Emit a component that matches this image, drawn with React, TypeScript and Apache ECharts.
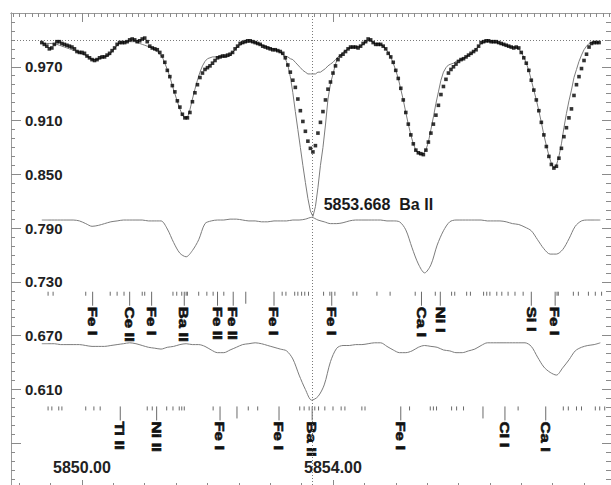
import React, { useEffect, useRef } from 'react';
import * as echarts from 'echarts';

// ---- axis ranges ----
const X_MIN = 5848.869;
const X_MAX = 5858.43;
const Y_MIN = 0.5;
const Y_MAX = 1.03;

// ---- tick / label values ----
const X_LABELS = [5850, 5854];
const Y_LABELS = [0.61, 0.67, 0.73, 0.79, 0.85, 0.91, 0.97];
const Y_MAJOR = [0.55, 0.61, 0.67, 0.73, 0.79, 0.85, 0.91, 0.97];

// ---- reference lines ----
const CONTINUUM = 1.0;
const BA_LINE = 5853.668;
const BA_LINE_DEPTH = 0.803;
const BA_TEXT = '5853.668  Ba II';

// ---- observed spectrum (uniform sampling) ----
const OBS_START = 5849.36;
const OBS_STEP = 0.04;
const OBS_FLUX = [
  0.997, 0.995, 0.993, 0.990, 0.991, 0.995, 0.998, 0.998, 0.996, 0.995,
  0.994, 0.993, 0.992, 0.990, 0.987, 0.986, 0.986, 0.985, 0.982, 0.980,
  0.978, 0.977, 0.978, 0.980, 0.981, 0.981, 0.983, 0.985, 0.988, 0.991,
  0.995, 0.997, 0.997, 0.997, 0.998, 1.000, 1.001, 1.000, 0.998, 0.999,
  1.001, 1.002, 0.998, 0.993, 0.991, 0.990, 0.989, 0.986, 0.982, 0.975,
  0.966, 0.959, 0.949, 0.942, 0.932, 0.925, 0.917, 0.913, 0.913, 0.919,
  0.931, 0.941, 0.950, 0.958, 0.963, 0.967, 0.969, 0.971, 0.974, 0.977,
  0.980, 0.981, 0.982, 0.982, 0.983, 0.984, 0.986, 0.990, 0.993, 0.996,
  0.997, 0.998, 0.999, 0.999, 0.998, 0.997, 0.996, 0.995, 0.993, 0.992,
  0.991, 0.990, 0.989, 0.989, 0.988, 0.987, 0.985, 0.980, 0.972, 0.964,
  0.955, 0.947, 0.934, 0.921, 0.909, 0.898, 0.887, 0.879, 0.875, 0.882,
  0.896, 0.908, 0.920, 0.933, 0.945, 0.953, 0.963, 0.971, 0.978, 0.982,
  0.984, 0.987, 0.990, 0.992, 0.992, 0.992, 0.991, 0.993, 0.996, 0.998,
  1.001, 1.000, 0.997, 0.995, 0.995, 0.995, 0.993, 0.990, 0.985, 0.981,
  0.975, 0.966, 0.957, 0.946, 0.933, 0.919, 0.906, 0.894, 0.884, 0.877,
  0.874, 0.873, 0.872, 0.877, 0.886, 0.896, 0.906, 0.916, 0.927, 0.939,
  0.948, 0.956, 0.963, 0.967, 0.970, 0.973, 0.976, 0.978, 0.979, 0.981,
  0.983, 0.985, 0.987, 0.989, 0.993, 0.997, 0.998, 0.999, 0.999, 0.998,
  0.998, 0.998, 0.997, 0.996, 0.995, 0.994, 0.993, 0.992, 0.991, 0.992,
  0.991, 0.986, 0.980, 0.974, 0.966, 0.955, 0.944, 0.933, 0.921, 0.908,
  0.894, 0.881, 0.870, 0.861, 0.857, 0.859, 0.868, 0.879, 0.892, 0.902,
  0.913, 0.923, 0.938, 0.950, 0.959, 0.968, 0.977, 0.984, 0.992, 0.996,
  0.997, 0.997, 0.997,
];

// ---- synthetic spectrum (same sampling as observed) ----
const SYN_FLUX = [
  0.997, 0.996, 0.996, 0.996, 0.996, 0.995, 0.995, 0.994, 0.993, 0.992,
  0.991, 0.990, 0.989, 0.988, 0.987, 0.986, 0.984, 0.983, 0.982, 0.980,
  0.978, 0.978, 0.978, 0.979, 0.980, 0.981, 0.982, 0.983, 0.987, 0.990,
  0.994, 0.996, 0.997, 0.998, 0.998, 0.998, 0.998, 0.998, 0.997, 0.996,
  0.995, 0.994, 0.993, 0.992, 0.991, 0.989, 0.987, 0.984, 0.981, 0.974,
  0.967, 0.959, 0.949, 0.940, 0.931, 0.923, 0.916, 0.913, 0.913, 0.922,
  0.934, 0.945, 0.955, 0.964, 0.971, 0.976, 0.979, 0.980, 0.981, 0.981,
  0.981, 0.981, 0.981, 0.981, 0.981, 0.982, 0.986, 0.989, 0.992, 0.994,
  0.996, 0.997, 0.997, 0.998, 0.997, 0.997, 0.996, 0.995, 0.994, 0.993,
  0.992, 0.991, 0.990, 0.989, 0.988, 0.986, 0.984, 0.979, 0.972, 0.959,
  0.941, 0.920, 0.900, 0.880, 0.860, 0.841, 0.823, 0.809, 0.803, 0.814,
  0.835, 0.860, 0.880, 0.905, 0.934, 0.951, 0.962, 0.973, 0.981, 0.983,
  0.986, 0.988, 0.990, 0.991, 0.992, 0.992, 0.993, 0.993, 0.995, 0.997,
  0.999, 0.999, 0.997, 0.996, 0.996, 0.995, 0.993, 0.990, 0.986, 0.981,
  0.974, 0.966, 0.957, 0.945, 0.933, 0.919, 0.906, 0.894, 0.884, 0.877,
  0.873, 0.872, 0.873, 0.877, 0.886, 0.900, 0.914, 0.929, 0.942, 0.955,
  0.964, 0.969, 0.972, 0.973, 0.974, 0.976, 0.977, 0.978, 0.979, 0.981,
  0.983, 0.984, 0.987, 0.990, 0.993, 0.996, 0.997, 0.998, 0.998, 0.998,
  0.997, 0.997, 0.996, 0.995, 0.995, 0.994, 0.993, 0.992, 0.992, 0.991,
  0.990, 0.986, 0.981, 0.974, 0.966, 0.955, 0.944, 0.933, 0.921, 0.908,
  0.894, 0.882, 0.871, 0.862, 0.857, 0.860, 0.870, 0.884, 0.902, 0.918,
  0.932, 0.944, 0.958, 0.967, 0.976, 0.983, 0.989, 0.993, 0.996, 0.997,
  0.998, 0.997, 0.997,
];

// ---- synthetic with weak Ba II 5853.668 (partial) ----
const WEAK_START = 5853.16;
const WEAK_FLUX = [
  0.986, 0.984, 0.982, 0.981, 0.979, 0.978, 0.975, 0.972, 0.969, 0.966,
  0.964, 0.962, 0.962, 0.962, 0.962, 0.964, 0.964, 0.966, 0.968, 0.971,
  0.973, 0.975, 0.978, 0.981, 0.983, 0.986, 0.988,
];

// ---- offset component spectra (0.1 A sampling) ----
const COMP_START = 5849.36;
const COMP_STEP = 0.1;
const MID_FLUX = [
  0.799, 0.799, 0.799, 0.799, 0.799, 0.799, 0.798, 0.795, 0.792, 0.793,
  0.795, 0.797, 0.798, 0.799, 0.799, 0.799, 0.799, 0.798, 0.798, 0.798,
  0.789, 0.774, 0.762, 0.758, 0.765, 0.777, 0.795, 0.798, 0.799, 0.799,
  0.800, 0.800, 0.799, 0.798, 0.798, 0.797, 0.797, 0.798, 0.798, 0.798,
  0.799, 0.799, 0.800, 0.802, 0.799, 0.797, 0.795, 0.795, 0.796, 0.798,
  0.799, 0.799, 0.799, 0.799, 0.799, 0.798, 0.798, 0.797, 0.788, 0.768,
  0.750, 0.740, 0.749, 0.771, 0.787, 0.797, 0.799, 0.799, 0.799, 0.799,
  0.799, 0.798, 0.798, 0.798, 0.797, 0.795, 0.794, 0.791, 0.787, 0.777,
  0.767, 0.761, 0.761, 0.766, 0.778, 0.792, 0.798, 0.799, 0.799, 0.799,
];
const LOW_FLUX = [
  0.661, 0.661, 0.661, 0.660, 0.660, 0.660, 0.660, 0.659, 0.658, 0.658,
  0.658, 0.659, 0.660, 0.661, 0.662, 0.661, 0.659, 0.657, 0.656, 0.655,
  0.657, 0.658, 0.660, 0.661, 0.660, 0.660, 0.658, 0.654, 0.651, 0.651,
  0.654, 0.657, 0.660, 0.661, 0.662, 0.661, 0.659, 0.657, 0.655, 0.653,
  0.644, 0.626, 0.610, 0.598, 0.602, 0.615, 0.641, 0.656, 0.659, 0.659,
  0.660, 0.660, 0.661, 0.662, 0.662, 0.658, 0.654, 0.651, 0.651, 0.653,
  0.657, 0.659, 0.658, 0.657, 0.654, 0.653, 0.651, 0.651, 0.653, 0.655,
  0.659, 0.662, 0.662, 0.662, 0.662, 0.662, 0.662, 0.662, 0.658, 0.646,
  0.635, 0.629, 0.626, 0.634, 0.643, 0.653, 0.657, 0.659, 0.660, 0.662,
];

// ---- line identifications ----
const ROW1_LEVEL = 0.719;
const ROW2_LEVEL = 0.591;
const ROW1_WAVES = [5850.17, 5850.76, 5851.11, 5851.63, 5852.16, 5852.41, 5853.06, 5853.98, 5855.41, 5855.71, 5857.16, 5857.54];
const ROW1_NAMES = ['Fe I', 'Ce II', 'Fe I', 'Ba II', 'Fe II', 'Fe II', 'Fe I', 'Fe I', 'Ca I', 'Ni I', 'Si I', 'Fe I'];
const ROW1_MINOR = [
  5849.46, 5849.54, 5850.06, 5850.45, 5850.56, 5850.67, 5850.96, 5851.00, 5851.45, 5851.51,
  5851.59, 5851.66, 5851.68, 5851.86, 5851.99, 5852.09, 5852.26, 5853.19, 5853.25, 5853.39,
  5853.44, 5853.50, 5853.55, 5853.61, 5853.85, 5853.95, 5854.03, 5854.32, 5854.38, 5854.70,
  5854.91, 5855.31, 5855.63, 5855.89, 5855.94, 5856.13, 5856.19, 5856.40, 5856.45, 5856.50,
  5856.61, 5856.69, 5856.79, 5856.90, 5857.03, 5857.57, 5857.59, 5857.83, 5857.91, 5858.07,
  5858.18, 5858.28,
];
const ROW1_MID = [5852.61];
const ROW2_WAVES = [5850.61, 5851.19, 5852.20, 5853.14, 5853.668, 5855.08, 5856.74, 5857.39];
const ROW2_NAMES = ['Ti II', 'Ni II', 'Fe I', 'Fe I', 'Ba II', 'Fe I', 'CI I', 'Ca I'];
const ROW2_MINOR = [
  5849.46, 5849.52, 5849.63, 5849.68, 5850.06, 5850.19, 5850.29, 5851.04, 5851.12, 5851.35,
  5851.45, 5851.55, 5851.59, 5851.63, 5852.09, 5852.65, 5852.80, 5853.47, 5853.54, 5853.62,
  5853.71, 5853.77, 5853.87, 5854.00, 5854.13, 5854.19, 5854.46, 5854.51, 5855.22, 5855.55,
  5855.60, 5855.65, 5855.89, 5855.97, 5856.08, 5856.95, 5857.67, 5857.75, 5857.88, 5857.96,
  5858.18, 5858.25, 5858.33,
];
const ROW2_MID = [5852.47, 5856.39];

const FONT = '"Liberation Sans", Arial, Helvetica, sans-serif';

function steps(a: number, b: number, s: number, dec: number) {
  const out: number[] = [];
  const n = Math.round((b - a) / s);
  for (let i = 0; i <= n; i++) out.push(+(a + i * s).toFixed(dec));
  return out;
}

function buildOption() {
  const wave = (start: number, step: number, i: number) => +(start + i * step).toFixed(3);
  const obs = OBS_FLUX.map((f, i) => [wave(OBS_START, OBS_STEP, i), f]);
  const syn = SYN_FLUX.map((f, i) => [wave(OBS_START, OBS_STEP, i), f]);
  const weak = WEAK_FLUX.map((f, i) => [wave(WEAK_START, OBS_STEP, i), f]);
  const mid = MID_FLUX.map((f, i) => [wave(COMP_START, COMP_STEP, i), f]);
  const low = LOW_FLUX.map((f, i) => [wave(COMP_START, COMP_STEP, i), f]);

  type Mark = { w: number; level: number; kind: number; text: string };
  const marks: Mark[] = [];
  ROW1_MINOR.forEach((w) => marks.push({ w, level: ROW1_LEVEL, kind: 0, text: '' }));
  ROW1_MID.forEach((w) => marks.push({ w, level: ROW1_LEVEL, kind: 1, text: '' }));
  ROW1_WAVES.forEach((w, i) => marks.push({ w, level: ROW1_LEVEL, kind: 2, text: ROW1_NAMES[i] }));
  ROW2_MINOR.forEach((w) => marks.push({ w, level: ROW2_LEVEL, kind: 0, text: '' }));
  ROW2_MID.forEach((w) => marks.push({ w, level: ROW2_LEVEL, kind: 1, text: '' }));
  ROW2_WAVES.forEach((w, i) => marks.push({ w, level: ROW2_LEVEL, kind: 2, text: ROW2_NAMES[i] }));

  const xMinor = steps(5849, 5858, 0.5, 2);
  const xTopMinor = steps(5848.9, 5858.4, 0.1, 2);
  const yMinor = steps(0.51, 1.02, 0.01, 2);

  const axisLine = { onZero: false, lineStyle: { color: '#9a9a9a', width: 1 } };
  const tickStyle = { color: '#8a8a8a', width: 1 };
  const xc = { type: 'value', min: X_MIN, max: X_MAX, splitLine: { show: false }, axisLine, gridIndex: 0 };
  const yc = { type: 'value', min: Y_MIN, max: Y_MAX, splitLine: { show: false }, axisLine, gridIndex: 0 };
  const noLabel = { show: false };

  const greyLine = { color: '#7c7c7c', width: 1 };

  return {
    animation: false,
    backgroundColor: '#ffffff',
    grid: { left: 11, top: 13, width: 600, height: 475, containLabel: false, outerBoundsMode: 'none' },
    xAxis: [
      {
        ...xc, position: 'bottom',
        axisTick: { inside: true, length: 5, customValues: xMinor, lineStyle: tickStyle },
        axisLabel: {
          inside: true, customValues: X_LABELS, formatter: (v: number) => v.toFixed(2),
          margin: 13, fontSize: 16, fontWeight: 'bold', color: '#222', fontFamily: FONT,
        },
      },
      { ...xc, position: 'bottom', axisTick: { inside: true, length: 8, customValues: X_LABELS, lineStyle: tickStyle }, axisLabel: noLabel },
      { ...xc, position: 'top', axisTick: { inside: true, length: 4, customValues: xTopMinor, lineStyle: tickStyle }, axisLabel: noLabel },
      { ...xc, position: 'top', axisTick: { inside: true, length: 9, customValues: X_LABELS, lineStyle: tickStyle }, axisLabel: noLabel },
    ],
    yAxis: [
      {
        ...yc, position: 'left',
        axisTick: { inside: true, length: 4, customValues: yMinor, lineStyle: tickStyle },
        axisLabel: {
          inside: true, customValues: Y_LABELS, formatter: (v: number) => v.toFixed(3),
          margin: 14, fontSize: 15, fontWeight: 'bold', color: '#222', fontFamily: FONT,
        },
      },
      { ...yc, position: 'left', axisTick: { inside: true, length: 10, customValues: Y_MAJOR, lineStyle: tickStyle }, axisLabel: noLabel },
      { ...yc, position: 'right', axisTick: { inside: true, length: 5, customValues: yMinor, lineStyle: tickStyle }, axisLabel: noLabel },
      { ...yc, position: 'right', axisTick: { inside: true, length: 9, customValues: Y_MAJOR, lineStyle: tickStyle }, axisLabel: noLabel },
    ],
    series: [
      {
        name: 'synthetic', type: 'line', data: syn, showSymbol: false, symbol: 'none',
        lineStyle: greyLine, z: 2, silent: true,
        markLine: {
          silent: true, symbol: ['none', 'none'], label: { show: false },
          lineStyle: { type: [1, 2], color: '#7a7a7a', width: 1 },
          data: [{ yAxis: CONTINUUM }, { xAxis: BA_LINE }],
        },
        markPoint: {
          silent: true, symbol: 'circle', symbolSize: 1,
          itemStyle: { color: 'rgba(0,0,0,0)' },
          label: {
            show: true, position: 'right', distance: 0, offset: [11, -12],
            formatter: BA_TEXT, fontSize: 16, fontWeight: 'bold', color: '#1a1a1a', fontFamily: FONT,
          },
          data: [{ coord: [BA_LINE, BA_LINE_DEPTH] }],
        },
      },
      { name: 'weak Ba', type: 'line', data: weak, showSymbol: false, symbol: 'none', lineStyle: greyLine, z: 2, silent: true },
      { name: 'component 1', type: 'line', data: mid, showSymbol: false, symbol: 'none', smooth: 0.3, lineStyle: greyLine, z: 2, silent: true },
      { name: 'component 2', type: 'line', data: low, showSymbol: false, symbol: 'none', smooth: 0.3, lineStyle: greyLine, z: 2, silent: true },
      {
        name: 'observed', type: 'scatter', data: obs, symbol: 'rect', symbolSize: 3.6,
        itemStyle: { color: '#000' }, z: 5, silent: true,
      },
      {
        name: 'line ids', type: 'custom', silent: true, z: 4,
        data: marks.map((m) => [m.w, m.level]),
        encode: { x: 0, y: 1 },
        renderItem: (params: any, api: any) => {
          const m = marks[params.dataIndex];
          const p = api.coord([m.w, m.level]);
          const len = m.kind === 0 ? 4 : m.kind === 1 ? 12 : 14;
          const children: any[] = [
            {
              type: 'line',
              shape: { x1: p[0], y1: p[1], x2: p[0], y2: p[1] + len },
              style: { stroke: '#6a6a6a', lineWidth: 1 },
            },
          ];
          if (m.text) {
            children.push({
              type: 'text',
              x: p[0], y: p[1] + len + 1,
              rotation: -Math.PI / 2,
              scaleX: 1.28,
              style: {
                text: m.text, fill: '#111', stroke: '#111', lineWidth: 0.6,
                font: `bold 13px ${FONT}`,
                align: 'left', verticalAlign: 'middle',
              },
            });
          }
          return { type: 'group', children };
        },
      },
    ],
  };
}

export default function App() {
  const ref = useRef<HTMLDivElement>(null);
  useEffect(() => {
    if (!ref.current) return;
    const chart = echarts.init(ref.current, null, { renderer: 'svg' });
    chart.setOption(buildOption() as any);
    return () => chart.dispose();
  }, []);
  return (
    <div
      ref={ref}
      style={{ position: 'fixed', left: 0, top: 0, width: 611, height: 485, background: '#fff' }}
    />
  );
}
